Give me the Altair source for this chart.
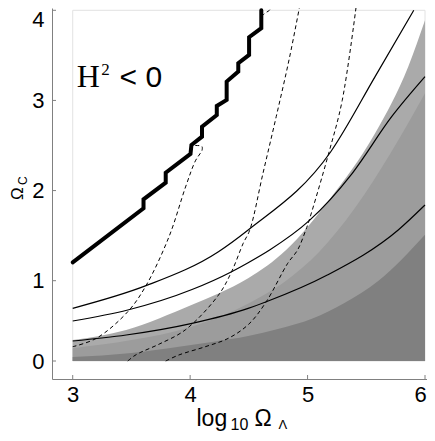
import altair as alt
import pandas as pd

# ---------------- data ----------------
# thick stair-step boundary of the H^2<0 region
bound_x = [3.000, 3.603, 3.603, 3.792, 3.792, 4.003, 4.011, 4.101, 4.101, 4.227,
           4.227, 4.311, 4.311, 4.410, 4.410, 4.502, 4.502, 4.606, 4.606]
bound_y = [1.204, 1.804, 1.903, 2.088, 2.199, 2.406, 2.506, 2.598, 2.709, 2.839,
           2.939, 3.006, 3.209, 3.320, 3.413, 3.505, 3.702, 3.802, 4.000]

# thin solid curves
c1_x = [3.0, 3.624, 4.241, 4.494, 5.196, 5.575, 5.904]
c1_y = [0.656, 0.938, 1.322, 1.563, 2.428, 3.264, 4.0]
c2_x = [3.0, 3.469, 4.016, 4.353, 4.494, 4.677, 5.014, 5.379, 5.716, 6.0]
c2_y = [0.498, 0.635, 0.89, 1.1, 1.2, 1.341, 1.666, 2.189, 2.82, 3.264]
c3_x = [3.0, 3.455, 4.016, 4.494, 4.648, 5.168, 5.772, 6.0]
c3_y = [0.249, 0.324, 0.469, 0.656, 0.738, 1.063, 1.563, 1.84]

# dashed curves
d1_x = [3.0, 3.202, 3.469, 3.624, 3.82, 3.961, 4.045, 4.085, 4.10, 4.10, 4.05, 4.01]
d1_y = [0.178, 0.283, 0.614, 0.938, 1.488, 2.04, 2.33, 2.41, 2.44, 2.49, 2.50, 2.50]
d2_x = [3.469, 3.52, 3.567, 3.736, 3.961, 4.241, 4.353, 4.452, 4.508, 4.62, 4.733, 4.845, 4.943]
d2_y = [0.0, 0.06, 0.10, 0.21, 0.39, 0.82, 1.1, 1.415, 1.563, 2.19, 2.82, 3.468, 4.115]
d3_x = [3.792, 3.904, 4.129, 4.326, 4.5, 4.648, 4.831, 4.915, 4.985, 5.014, 5.183, 5.295, 5.421]
d3_y = [0.0, 0.075, 0.178, 0.283, 0.46, 0.738, 1.193, 1.341, 1.563, 1.673, 2.428, 3.0, 4.115]
d4_x = [4.606, 4.64, 4.675, 4.70, 4.72]
d4_y = [3.93, 3.97, 4.0, 4.05, 4.115]

# shaded regions (upper boundaries)
light_x = [3.0, 3.455, 4.016, 4.241, 4.494, 4.817, 5.183, 5.575, 5.857, 6.0]
light_y = [0.26, 0.386, 0.70, 0.84, 1.027, 1.341, 1.896, 2.636, 3.375, 3.89]
mid_x = [3.0, 3.5, 4.0, 4.25, 4.5, 4.8, 5.1, 5.4, 5.7, 6.0]
mid_y = [0.16, 0.26, 0.42, 0.55, 0.72, 0.98, 1.32, 1.8, 2.4, 3.08]
dark_x = [3.0, 3.5, 3.904, 4.2, 4.494, 4.747, 5.042, 5.31, 5.604, 6.0]
dark_y = [0.05, 0.10, 0.178, 0.24, 0.31, 0.40, 0.53, 0.72, 1.0, 1.51]

x_ticks = [3, 4, 5, 6]
y_ticks = [0, 1, 2, 3, 4]

# ---------------- build tables ----------------
def table(xs, ys, name):
    return pd.DataFrame({"x": xs, "y": ys, "curve": name, "i": range(len(xs))})

solid_df = pd.concat([table(c1_x, c1_y, "c1"), table(c2_x, c2_y, "c2"), table(c3_x, c3_y, "c3")])
dash_df = pd.concat([table(d1_x, d1_y, "d1"), table(d2_x, d2_y, "d2"),
                     table(d3_x, d3_y, "d3"), table(d4_x, d4_y, "d4")])
bound_df = table(bound_x, bound_y, "b")

W, H = 375, 371
xscale = alt.Scale(domain=[2.8237, 6.0170], nice=False, zero=False)
yscale = alt.Scale(domain=[-0.224, 0, 1, 4.0255], range=[H, 353, 272.7, 0], nice=False, zero=False)

axis_common = dict(ticks=False, grid=False, domainColor="#808080", domainWidth=1,
                   labelFont="Liberation Sans", labelFontSize=22, labelColor="black",
                   format="d", title=None)
xaxis = alt.Axis(values=x_ticks, labelPadding=5,
                 labelOffset={"condition": {"test": "datum.value == 6", "value": -5}, "value": 0},
                 **axis_common)
yaxis = alt.Axis(values=y_ticks, labelPadding=8,
                 labelOffset={"condition": {"test": "datum.value == 4", "value": 9}, "value": 0},
                 **axis_common)


def X(f="x"):
    return alt.X(f"{f}:Q", scale=xscale, axis=xaxis)


def Y(f="y"):
    return alt.Y(f"{f}:Q", scale=yscale, axis=yaxis)


frame = alt.Chart(pd.DataFrame({"x": [3], "x2": [6], "y": [0], "y2": [4]})).mark_rect(
    fillOpacity=0, stroke="#e2e2e2", strokeWidth=1
).encode(x=X(), x2="x2:Q", y=Y(), y2="y2:Q")


def band(xs, ys, color):
    return alt.Chart(pd.DataFrame({"x": xs, "y": ys})).mark_area(
        color=color, interpolate="monotone", opacity=1
    ).encode(x=X(), y=Y(), y2=alt.datum(0))


light = band(light_x, light_y, "#aaaaaa")
mid = band(mid_x, mid_y, "#9c9c9c")
dark = band(dark_x, dark_y, "#808080")

solid = alt.Chart(solid_df).mark_line(color="black", strokeWidth=1.2, interpolate="monotone", clip=True).encode(
    x=X(), y=Y(), detail="curve:N", order="i:Q")

dashed = alt.Chart(dash_df).mark_line(color="black", strokeWidth=1, strokeDash=[4, 3],
                                      interpolate="catmull-rom", clip=True).encode(
    x=X(), y=Y(), detail="curve:N", order="i:Q")

thick = alt.Chart(bound_df).mark_line(color="black", strokeWidth=4, strokeCap="round",
                                      strokeJoin="miter").encode(x=X(), y=Y(), order="i:Q")

xt = alt.Chart(pd.DataFrame({"x": x_ticks})).mark_rule(color="#808080").encode(
    x=X(), y=alt.value(H), y2=alt.value(H - 4))
yt = alt.Chart(pd.DataFrame({"y": y_ticks})).mark_rule(color="#808080").encode(
    y=Y(), x=alt.value(0), x2=alt.value(4))

# H^2 < 0 label (data coordinates)
ann = pd.DataFrame({
    "x": [3.034, 3.244, 3.399],
    "y": [3.147, 3.283, 3.147],
    "t": ["H", "2", "< 0"],
    "font": ["Liberation Serif", "Liberation Serif", "Liberation Sans"],
    "size": [32, 17, 30],
})
ann_layers = []
for _, r in ann.iterrows():
    ann_layers.append(
        alt.Chart(pd.DataFrame([r])).mark_text(align="left", baseline="alphabetic", font=r["font"],
                                               fontSize=int(r["size"]), color="black").encode(
            x=X(), y=Y(), text="t:N"))

# axis titles (pixel positions)
def label(text, px, py, size, angle=0):
    return alt.Chart(pd.DataFrame({"t": [text]})).mark_text(
        align="left", baseline="alphabetic", font="Liberation Sans", fontSize=size,
        color="black", angle=angle).encode(x=alt.value(px), y=alt.value(py), text="t:N")

titles = [
    label("log", 144.5, 418, 23),
    label("10", 178.5, 422, 16),
    label("Ω", 202.5, 418, 23),
    label("Λ", 226.5, 421, 13),
    label("Ω", -29, 192, 17, 270),
    label("C", -25, 177, 12, 270),
]

chart = alt.layer(frame, light, mid, dark, solid, dashed, thick, xt, yt, *ann_layers, *titles).properties(
    width=W, height=H,
    autosize=alt.AutoSizeParams(type="none"),
    padding={"left": 44, "top": 0, "right": 0, "bottom": 54},
).configure_view(stroke=None)

chart.save("out.html", embed_options={"renderer": "svg", "actions": False})
